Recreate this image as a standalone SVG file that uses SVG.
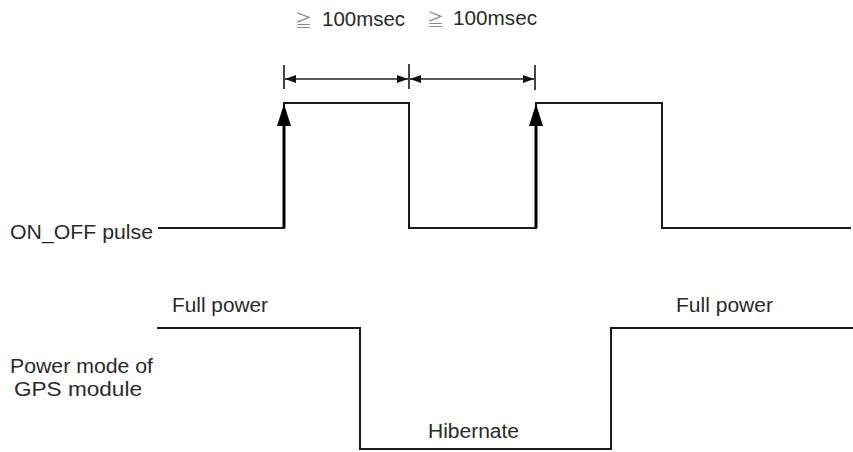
<svg xmlns="http://www.w3.org/2000/svg" width="853" height="452" viewBox="0 0 853 452">
<defs>
<style>
text{font-family:"Liberation Sans",Arial,sans-serif;font-size:20px;fill:#2a2a2a}
.ge{font-family:"Noto Sans CJK JP","Liberation Sans",sans-serif;font-size:17px;fill:#8a8a8a}
.w{fill:none;stroke:#1a1a1a;stroke-width:2;stroke-linejoin:miter}
.t{fill:none;stroke:#444;stroke-width:2}
.d{fill:none;stroke:#222;stroke-width:1.6}
</style>
<marker id="dh" viewBox="0 0 11 8" refX="11" refY="4" markerWidth="11" markerHeight="8" markerUnits="userSpaceOnUse" orient="auto-start-reverse">
<path d="M0,0 L11,4 L0,8 Z" fill="#111"/>
</marker>
</defs>
<g id="labels">
<text x="10" y="239" textLength="143" lengthAdjust="spacingAndGlyphs">ON_OFF pulse</text>
<text x="10" y="373" textLength="143" lengthAdjust="spacingAndGlyphs">Power mode of</text>
<text x="14" y="396" textLength="128" lengthAdjust="spacingAndGlyphs">GPS module</text>
<text x="172" y="312" textLength="96" lengthAdjust="spacingAndGlyphs">Full power</text>
<text x="676" y="312" textLength="97" lengthAdjust="spacingAndGlyphs">Full power</text>
<text x="428" y="438" textLength="91" lengthAdjust="spacingAndGlyphs">Hibernate</text>
<text class="ge" x="295" y="27">≧</text>
<text x="322" y="26" textLength="83" lengthAdjust="spacingAndGlyphs">100msec</text>
<text class="ge" x="427" y="26">≧</text>
<text x="453" y="25" textLength="84" lengthAdjust="spacingAndGlyphs">100msec</text>
</g>
<g id="on_off_wave">
<polyline class="w" points="158,228 284,228 284,103 409,103 409,228 536,228 536,103 662,103 662,228 851,228"/>
<path d="M284,104 L277,126 L291,126 Z" fill="#000"/>
<path d="M536,104 L529,126 L543,126 Z" fill="#000"/>
<line x1="284" y1="228" x2="284" y2="120" stroke="#000" stroke-width="3"/>
<line x1="536" y1="228" x2="536" y2="120" stroke="#000" stroke-width="3"/>
</g>
<g id="power_wave">
<polyline class="w" points="157,328 360,328 360,449 611,449 611,328 853,328"/>
</g>
<g id="connectors">
<line class="t" x1="284" y1="65" x2="284" y2="89"/>
<line class="t" x1="409" y1="64" x2="409" y2="89"/>
<line class="t" x1="535" y1="65" x2="535" y2="90"/>
<line class="d" x1="285" y1="79" x2="408" y2="79" marker-start="url(#dh)" marker-end="url(#dh)"/>
<line class="d" x1="410" y1="79" x2="534" y2="79" marker-start="url(#dh)" marker-end="url(#dh)"/>
</g>
</svg>
